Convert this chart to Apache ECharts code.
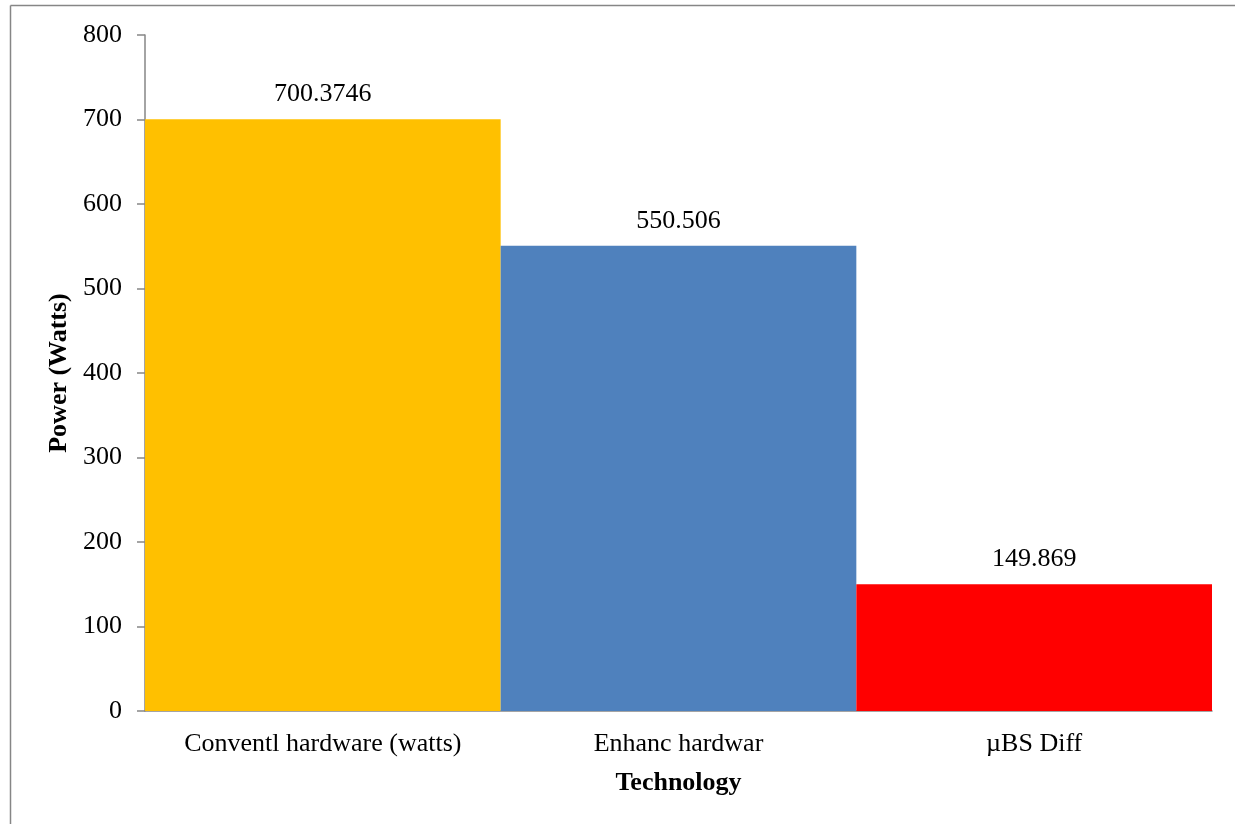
<!DOCTYPE html>
<html>
<head>
<meta charset="utf-8">
<script src="https://cdn.jsdelivr.net/npm/echarts@6/dist/echarts.min.js"></script>
<style>
  html, body { margin: 0; padding: 0; background: #fff; }
  #chart { width: 1235px; height: 824px; }
</style>
</head>
<body>
<div id="chart"></div>
<script>
// Power use per technology
const categories = ['Conventl hardware (watts)', 'Enhanc hardwar', 'µBS Diff'];
const powerValues = [700.3746, 550.506, 149.869];
const barColors = ['#FFC000', '#4F81BD', '#FF0000'];
const yTicks = { min: 0, max: 800, interval: 100 };

const FONT = '"Liberation Serif", "Times New Roman", serif';
const FS = 26;
const AXIS_GRAY = '#868686';

const chart = echarts.init(document.getElementById('chart'), null, { renderer: 'canvas' });

chart.setOption({
  backgroundColor: '#ffffff',
  animation: false,
  textStyle: { fontFamily: FONT, color: '#000' },
  grid: { left: 145, right: 23, top: 35, bottom: 113, containLabel: false },
  graphic: [
    // frame around the chart area (left and top edges)
    { type: 'line', shape: { x1: 10.5, y1: 5.5, x2: 10.5, y2: 824 }, style: { stroke: AXIS_GRAY, lineWidth: 1.5 } },
    { type: 'line', shape: { x1: 10.5, y1: 5.5, x2: 1235, y2: 5.5 }, style: { stroke: AXIS_GRAY, lineWidth: 1.5 } }
  ],
  xAxis: {
    type: 'category',
    data: categories,
    name: 'Technology',
    nameLocation: 'middle',
    nameGap: 59,
    nameTextStyle: { fontFamily: FONT, fontSize: FS, fontWeight: 'bold', color: '#000' },
    axisLine: { show: true, lineStyle: { color: AXIS_GRAY, width: 1.5 } },
    axisTick: { show: false },
    axisLabel: { interval: 0, hideOverlap: false, fontFamily: FONT, fontSize: FS, color: '#000', margin: 20 },
    splitLine: { show: false }
  },
  yAxis: {
    type: 'value',
    min: yTicks.min,
    max: yTicks.max,
    interval: yTicks.interval,
    name: 'Power (Watts)',
    nameLocation: 'middle',
    nameGap: 70,
    nameTextStyle: { fontFamily: FONT, fontSize: FS, fontWeight: 'bold', color: '#000' },
    axisLine: { show: true, lineStyle: { color: AXIS_GRAY, width: 1.5 } },
    axisTick: { show: true, inside: false, length: 8, lineStyle: { color: AXIS_GRAY, width: 1.5 } },
    axisLabel: { fontFamily: FONT, fontSize: FS, color: '#000', margin: 23 },
    splitLine: { show: false }
  },
  series: [{
    type: 'bar',
    barCategoryGap: '0%',
    data: powerValues.map((v, i) => ({ value: v, itemStyle: { color: barColors[i] } })),
    label: {
      show: true,
      position: 'top',
      distance: 12,
      fontFamily: FONT,
      fontSize: FS,
      color: '#000',
      formatter: p => String(p.value)
    }
  }]
});
</script>
</body>
</html>
